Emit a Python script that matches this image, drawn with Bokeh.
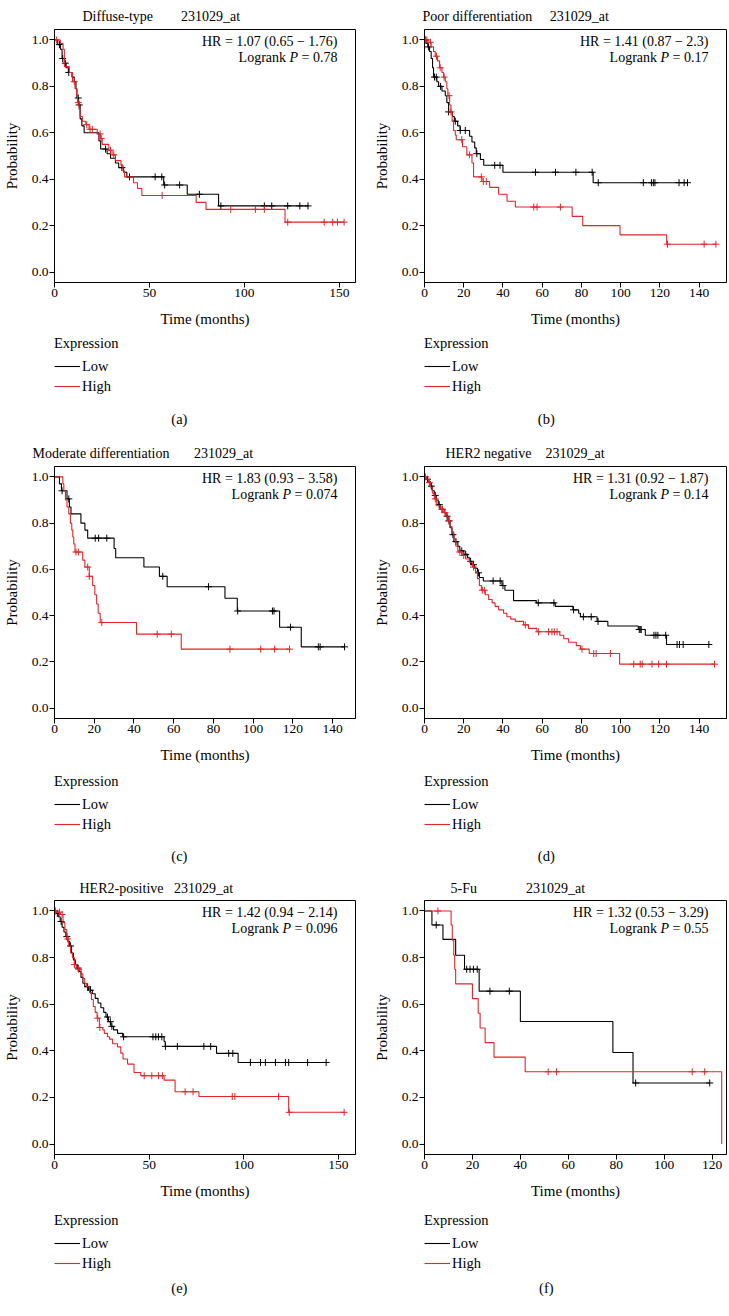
from bokeh.plotting import figure
from bokeh.models import Range1d, FixedTicker, PrintfTickFormatter, Label, Legend, LegendItem
from bokeh.layouts import column, row
from bokeh.embed import file_html
from bokeh.resources import INLINE

# ---------------- data ----------------
subgroups = ["Diffuse-type", "Poor differentiation", "Moderate differentiation",
             "HER2 negative", "HER2-positive", "5-Fu"]
probe = "231029_at"
panel_tags = ["(a)", "(b)", "(c)", "(d)", "(e)", "(f)"]
hr_text = ["HR = 1.07 (0.65 \u2212 1.76)", "HR = 1.41 (0.87 \u2212 2.3)",
           "HR = 1.83 (0.93 \u2212 3.58)", "HR = 1.31 (0.92 \u2212 1.87)",
           "HR = 1.42 (0.94 \u2212 2.14)", "HR = 1.32 (0.53 \u2212 3.29)"]
logrank_p = ["0.78", "0.17", "0.074", "0.14", "0.096", "0.55"]
x_ticks = [[0, 50, 100, 150], [0, 20, 40, 60, 80, 100, 120, 140],
           [0, 20, 40, 60, 80, 100, 120, 140], [0, 20, 40, 60, 80, 100, 120, 140],
           [0, 50, 100, 150], [0, 20, 40, 60, 80, 100, 120]]
x_max = [158.5, 154, 151.5, 154, 159, 126]
y_ticks = [0.0, 0.2, 0.4, 0.6, 0.8, 1.0]
groups = ["Low", "High"]
legend_title = "Expression"
x_label = "Time (months)"
y_label = "Probability"

# (a) Diffuse-type
a_low_t = [1.7, 3.1, 4.0, 5.2, 6.1, 7.3, 9.2, 10.4, 11.3, 11.8, 12.7, 13.5, 14.4, 15.6,
           23.4, 24.3, 27.7, 29.5, 32.1, 33.8, 36.4, 38.1, 57.5, 69.9, 86.4]
a_low_s = [0.98, 0.96, 0.92, 0.90, 0.88, 0.86, 0.84, 0.82, 0.79, 0.75, 0.72, 0.66, 0.63, 0.60,
           0.565, 0.53, 0.51, 0.49, 0.47, 0.45, 0.43, 0.41, 0.375, 0.335, 0.285]
a_low_c = [2.6, 4.3, 5.7, 7.5, 12.5, 13.0, 26.9, 35.5, 39.5, 53.0, 56.5, 58.0, 65.9, 76.3,
           87.6, 110.5, 114.4, 122.8, 129.2, 133.5]
a_high_t = [3.1, 4.5, 5.2, 7.8, 9.5, 10.8, 11.6, 12.1, 13.0, 13.5, 14.7, 16.5, 18.2, 22.5,
            24.3, 25.1, 28.6, 30.3, 32.1, 35.0, 36.1, 36.9, 41.6, 43.7, 46.0, 74.6, 79.8, 121.4]
a_high_s = [0.985, 0.96, 0.885, 0.86, 0.82, 0.79, 0.76, 0.73, 0.70, 0.67, 0.65, 0.635, 0.615,
            0.595, 0.575, 0.55, 0.525, 0.505, 0.48, 0.46, 0.435, 0.41, 0.385, 0.36, 0.33,
            0.30, 0.27, 0.215]
a_high_c = [1.0, 10.4, 12.5, 17.0, 18.7, 19.9, 24.0, 24.6, 29.5, 31.2, 56.7, 92.8, 105.8,
            110.5, 122.8, 142.0, 146.5, 149.0, 152.5]

# (b) Poor differentiation
b_low_t = [0.9, 1.7, 2.6, 3.4, 4.1, 4.6, 6.3, 7.2, 8.9, 10.6, 11.4, 12.3, 14.3, 15.2, 16.9,
           18.2, 23.0, 24.2, 25.6, 26.4, 28.5, 30.2, 40.0, 86.0]
b_low_s = [0.985, 0.97, 0.95, 0.92, 0.88, 0.84, 0.82, 0.80, 0.78, 0.76, 0.73, 0.69, 0.67,
           0.65, 0.63, 0.61, 0.585, 0.56, 0.535, 0.51, 0.485, 0.46, 0.43, 0.385]
b_low_c = [0.5, 2.0, 5.1, 6.0, 8.2, 12.3, 15.7, 18.2, 20.8, 26.7, 35.8, 38.5, 56.6, 66.8,
           77.2, 85.5, 88.6, 111.6, 115.7, 116.7, 117.5, 129.8, 132.4, 134.1]
b_high_t = [1.7, 3.4, 4.6, 5.5, 6.6, 7.7, 8.9, 9.7, 10.6, 11.4, 11.9, 12.8, 13.5, 14.1, 14.8,
            15.7, 16.2, 19.4, 21.6, 24.2, 25.0, 29.3, 33.2, 37.8, 42.1, 46.3, 75.3, 80.7,
            99.7, 123.5]
b_high_s = [0.99, 0.97, 0.95, 0.93, 0.91, 0.88, 0.86, 0.84, 0.82, 0.79, 0.76, 0.72, 0.69,
            0.65, 0.61, 0.59, 0.57, 0.54, 0.505, 0.47, 0.41, 0.39, 0.365, 0.335, 0.305, 0.28,
            0.24, 0.20, 0.16, 0.12]
b_high_c = [0.5, 1.2, 3.0, 6.1, 8.0, 10.0, 12.5, 13.5, 19.0, 23.0, 29.0, 30.0, 31.5, 55.7,
            57.4, 69.3, 123.9, 142.6, 148.6]

# (c) Moderate differentiation
c_low_t = [2.5, 3.5, 6.3, 7.5, 8.3, 13.3, 15.3, 16.7, 30.0, 30.8, 45.0, 52.8, 56.7, 85.8,
           92.0, 113.3, 124.2]
c_low_s = [0.97, 0.94, 0.905, 0.87, 0.84, 0.80, 0.77, 0.735, 0.69, 0.65, 0.61, 0.57, 0.525,
           0.475, 0.42, 0.35, 0.265]
c_low_c = [3.8, 7.2, 20.5, 22.2, 26.3, 54.5, 77.5, 92.2, 109.7, 110.5, 118.8, 132.8, 133.7,
           146.0]
c_high_t = [4.2, 4.7, 5.5, 6.3, 7.2, 8.0, 8.7, 9.2, 9.7, 10.3, 14.2, 15.3, 17.5, 19.2, 20.3,
            21.2, 22.0, 23.0, 41.3, 63.8]
c_high_s = [0.97, 0.94, 0.90, 0.87, 0.84, 0.80, 0.77, 0.74, 0.71, 0.675, 0.64, 0.61, 0.57,
            0.53, 0.49, 0.45, 0.41, 0.37, 0.32, 0.255]
c_high_c = [10.8, 12.0, 16.7, 17.5, 23.8, 51.7, 58.8, 88.3, 103.8, 110.8, 118.3]

# (d) HER2 negative
d_low_t = [1, 2, 3, 4, 5, 6, 7, 8, 10, 11, 12, 13, 14, 15, 17, 18, 20, 22, 23, 24, 25.5, 27,
           28, 30, 39.5, 41, 45.4, 57, 66.7, 75.7, 78.6, 79.5, 88, 93.5, 109, 112.6, 123.4]
d_low_s = [0.99, 0.98, 0.96, 0.94, 0.92, 0.90, 0.88, 0.86, 0.845, 0.83, 0.81, 0.78, 0.75,
           0.72, 0.70, 0.68, 0.665, 0.65, 0.635, 0.62, 0.605, 0.585, 0.565, 0.55, 0.53, 0.51,
           0.465, 0.455, 0.44, 0.425, 0.41, 0.395, 0.375, 0.355, 0.34, 0.315, 0.275]
d_low_c = [1.5, 3.5, 5.5, 7.5, 9, 11.5, 12.5, 14.5, 16, 19, 21, 23.5, 25, 27.5, 35, 38.6, 40,
           58, 66, 76, 81, 85, 88.5, 109.5, 110, 110.5, 117, 118, 119, 123, 128.8, 130, 131.9,
           145]
d_high_t = [1, 2, 3, 4, 5, 6, 8, 10, 11, 12, 13, 14, 15, 16, 17, 19, 21, 23, 24.5, 26, 27, 28,
            29, 31, 32.7, 34.5, 36, 37.8, 40.3, 42, 44, 46.3, 50.5, 53, 57.3, 69, 71, 73.5,
            77.4, 79.5, 84, 99.5]
d_high_s = [0.99, 0.975, 0.955, 0.93, 0.905, 0.875, 0.86, 0.845, 0.83, 0.81, 0.785, 0.76,
            0.73, 0.70, 0.675, 0.66, 0.645, 0.63, 0.61, 0.59, 0.56, 0.53, 0.51, 0.49, 0.47,
            0.455, 0.44, 0.425, 0.41, 0.395, 0.385, 0.375, 0.36, 0.345, 0.33, 0.315, 0.30,
            0.285, 0.27, 0.255, 0.236, 0.19]
d_high_c = [0.5, 2.5, 5.5, 9, 10.5, 12.5, 18, 20, 25, 29.5, 30.5, 51.4, 58.2, 63.3, 65, 66.2,
            67.6, 80.3, 86.3, 87.5, 94.8, 106.7, 110, 111, 116, 119.4, 123.4, 147.9]

# (e) HER2-positive
e_low_t = [1, 2, 3, 4, 5, 6, 7, 8, 9, 10, 11, 12, 13, 14, 15, 16, 18, 20, 21.5, 23, 24.5, 26,
           27.2, 28.5, 29.8, 31.2, 33.3, 36, 57.9, 58.5, 85.6, 97]
e_low_s = [0.99, 0.975, 0.955, 0.93, 0.91, 0.89, 0.87, 0.85, 0.82, 0.79, 0.77, 0.755, 0.74,
           0.715, 0.69, 0.675, 0.66, 0.645, 0.625, 0.605, 0.585, 0.565, 0.545, 0.525, 0.505,
           0.49, 0.475, 0.46, 0.44, 0.419, 0.389, 0.35]
e_low_c = [1.5, 3.5, 6.5, 8.5, 12.5, 17.5, 19, 28, 29.5, 30.3, 36.5, 52, 53.5, 54.9, 56.7,
           58.6, 64.9, 78.9, 82.5, 92, 94.2, 103.5, 108.8, 111.4, 116.7, 122, 123.7, 133.7,
           143.5]
e_high_t = [1, 3, 4.5, 5.5, 6.5, 7.5, 8.5, 9.5, 10.5, 11.5, 12.5, 14, 15, 16, 17, 18.5, 19.5,
            20.5, 21.5, 22.5, 23.7, 25.5, 26.3, 28, 29, 30.7, 33.3, 35, 36.2, 38.6, 42, 45.6,
            57.9, 63.7, 76.3, 123.7]
e_high_s = [0.995, 0.985, 0.95, 0.92, 0.88, 0.85, 0.82, 0.80, 0.77, 0.76, 0.75, 0.73, 0.71,
            0.69, 0.675, 0.65, 0.62, 0.59, 0.565, 0.54, 0.50, 0.49, 0.475, 0.46, 0.45, 0.43,
            0.417, 0.39, 0.365, 0.343, 0.307, 0.293, 0.274, 0.224, 0.204, 0.136]
e_high_c = [0.5, 2.6, 4, 7, 10.5, 12.8, 22.8, 24, 47.4, 51.4, 54.9, 57, 69, 73.2, 93.9, 95.3,
            118.4, 124, 153]

# (f) 5-Fu
f_low_t = [3.1, 7.7, 13.0, 16.7, 22.8, 40.0, 78.6, 87.0]
f_low_s = [0.94, 0.878, 0.81, 0.75, 0.656, 0.526, 0.393, 0.262]
f_low_c = [4.9, 17.6, 19.0, 20.4, 22.0, 27.3, 35.4, 88.1, 119.0]
f_high_t = [11.1, 11.6, 12.2, 12.6, 13.0, 20.0, 22.4, 23.2, 25.3, 29.0, 42.0, 124.0]
f_high_s = [0.94, 0.875, 0.81, 0.75, 0.687, 0.624, 0.561, 0.498, 0.435, 0.373, 0.31, 0.0]
f_high_c = [5.6, 51.6, 55.1, 111.7, 116.9]

curves = [
    ((a_low_t, a_low_s, a_low_c), (a_high_t, a_high_s, a_high_c)),
    ((b_low_t, b_low_s, b_low_c), (b_high_t, b_high_s, b_high_c)),
    ((c_low_t, c_low_s, c_low_c), (c_high_t, c_high_s, c_high_c)),
    ((d_low_t, d_low_s, d_low_c), (d_high_t, d_high_s, d_high_c)),
    ((e_low_t, e_low_s, e_low_c), (e_high_t, e_high_s, e_high_c)),
    ((f_low_t, f_low_s, f_low_c), (f_high_t, f_high_s, f_high_c)),
]

# ---------------- style / layout ----------------
FONT = "Liberation Serif"
TICK_FS = "13.5px"
AXL_FS = "15px"
TXT_PX = 14.0
TXT_FS = f"{TXT_PX}px"
LEG_FS = "14.5px"
COLORS = ["#000000", "#e0262b"]

COL_X = [0, 364]
COL_W = [364, 364]
MAIN_BL = [54, 60]
MAIN_BR = [9, 2]
MAIN_BT = [27, 34, 30]
TITLE_STANDOFF = [12, 12, 9]
FRAME_H = [255, 252, 254]
MAIN_BB = 50
FOOT_H = [100, 102, 106]
FOOT_BT = [3, 5, 8]
FOOT_BL = [53, 59]
TAG_FROM_TOP = [86, 87, 83]
COL_CENTER = [182, 546]
Y_LO, Y_HI = -0.045, 1.045

title_x_abs = [82, 422, 32, 445, 79, 450]
title_gap_nbsp = [8, 5, 7, 4, 3, 14]

TW = {' ': 250, '=': 564, '.': 250, 'P': 611}
for dg in "0123456789":
    TW[dg] = 500


def tw(s, px=TXT_PX):
    return sum(TW.get(ch, 500) for ch in s) / 1000.0 * px


def km(ev_t, ev_s, cens):
    end = max([ev_t[-1]] + list(cens))
    xs = [0.0] + list(ev_t) + [end]
    ys = [1.0] + list(ev_s) + [ev_s[-1]]
    cy = []
    for c in cens:
        s = 1.0
        for t, v in zip(ev_t, ev_s):
            if t <= c:
                s = v
        cy.append(s)
    return xs, ys, cy


def lab(p, text, x, y, xo=0, yo=0, align="left", style="normal", size=TXT_FS):
    p.add_layout(Label(x=x, y=y, x_offset=xo, y_offset=yo, text=text,
                       text_font=FONT, text_font_size=size, text_font_style=style,
                       text_align=align, text_baseline="middle", text_color="black"))


def make_panel(i):
    rw, col = divmod(i, 2)
    W = COL_W[col]

    # ---- main KM plot (title above the frame) ----
    p = figure(width=W, height=MAIN_BT[rw] + FRAME_H[rw] + MAIN_BB,
               x_range=Range1d(0, x_max[i]), y_range=Range1d(Y_LO, Y_HI),
               output_backend="svg", toolbar_location=None,
               min_border_left=MAIN_BL[col], min_border_right=MAIN_BR[col],
               min_border_top=MAIN_BT[rw], min_border_bottom=MAIN_BB)
    p.title.text = subgroups[i] + "\u00a0" * title_gap_nbsp[i] + probe
    p.title.align = "left"
    p.title.offset = title_x_abs[i] - COL_X[col] - MAIN_BL[col]
    p.title.standoff = TITLE_STANDOFF[rw]
    p.title.text_font = FONT
    p.title.text_font_size = TXT_FS
    p.title.text_font_style = "normal"
    p.title.text_color = "black"

    p.grid.visible = False
    p.outline_line_color = "black"
    p.outline_line_width = 1
    p.background_fill_color = "white"
    p.border_fill_color = "white"
    for ax in (p.xaxis[0], p.yaxis[0]):
        ax.axis_line_color = "black"
        ax.major_tick_line_color = "black"
        ax.major_tick_out = 5
        ax.major_tick_in = 0
        ax.minor_tick_line_color = None
        ax.major_label_text_font = FONT
        ax.major_label_text_font_size = TICK_FS
        ax.major_label_text_color = "black"
        ax.major_label_standoff = 1
        ax.axis_label_text_font = FONT
        ax.axis_label_text_font_size = AXL_FS
        ax.axis_label_text_font_style = "normal"
        ax.axis_label_text_color = "black"
    p.xaxis.ticker = FixedTicker(ticks=x_ticks[i])
    p.yaxis.ticker = FixedTicker(ticks=y_ticks)
    p.yaxis.formatter = PrintfTickFormatter(format="%.1f")
    p.xaxis.axis_label = x_label
    p.yaxis.axis_label = y_label
    p.xaxis.axis_label_standoff = 11
    p.yaxis.axis_label_standoff = 9

    for g, (t, s, c) in enumerate(curves[i]):
        xs, ys, cy = km(t, s, c)
        p.step(xs, ys, mode="after", line_color=COLORS[g], line_width=1.1)
        p.scatter(c, cy, marker="cross", size=7, line_color=COLORS[g], line_width=1)

    lab(p, hr_text[i], x_max[i], Y_HI, -18, -12, align="right")
    val = "= " + logrank_p[i]
    w3 = tw(val)
    lab(p, val, x_max[i], Y_HI, -18, -28, align="right")
    lab(p, "P", x_max[i], Y_HI, -18 - w3 - tw(" "), -28, align="right", style="italic")
    lab(p, "Logrank", x_max[i], Y_HI, -18 - w3 - tw(" P "), -28, align="right")

    # ---- footer with legend and panel tag ----
    fh = FOOT_H[rw]
    fbt = FOOT_BT[rw]
    fw = W - FOOT_BL[col]
    frame_h = fh - fbt
    foot = figure(width=W, height=fh, x_range=Range1d(0, fw), y_range=Range1d(0, frame_h),
                  output_backend="svg", toolbar_location=None,
                  x_axis_location=None, y_axis_location=None,
                  min_border=0, min_border_left=FOOT_BL[col], min_border_top=fbt,
                  min_border_right=0, min_border_bottom=0)
    foot.outline_line_color = None
    foot.grid.visible = False
    foot.background_fill_color = "white"
    foot.border_fill_color = "white"
    nan = float("nan")
    keys = [foot.line(x=[nan, nan], y=[nan, nan], line_color=COLORS[g], line_width=1.1)
            for g in range(2)]
    leg = Legend(items=[LegendItem(label=groups[g], renderers=[keys[g]]) for g in range(2)],
                 title=legend_title, location="top_left",
                 title_text_font=FONT, title_text_font_size=LEG_FS,
                 title_text_font_style="normal", title_text_color="black", title_standoff=4,
                 label_text_font=FONT, label_text_font_size=LEG_FS, label_text_color="black",
                 label_standoff=2, label_height=20, glyph_height=20, glyph_width=26,
                 spacing=0, padding=0, margin=0, border_line_color=None,
                 background_fill_alpha=0)
    foot.add_layout(leg)
    tag_x = COL_CENTER[col] - COL_X[col] - FOOT_BL[col]
    tag_y = frame_h - (TAG_FROM_TOP[rw] - fbt)
    lab(foot, panel_tags[i], tag_x, tag_y, align="center", size=LEG_FS)

    return column(p, foot, spacing=0)


panels = [make_panel(i) for i in range(6)]
layout = column(row(panels[0], panels[1], spacing=0),
                row(panels[2], panels[3], spacing=0),
                row(panels[4], panels[5], spacing=0), spacing=0)

open("out.html", "w").write(file_html(layout, INLINE))
